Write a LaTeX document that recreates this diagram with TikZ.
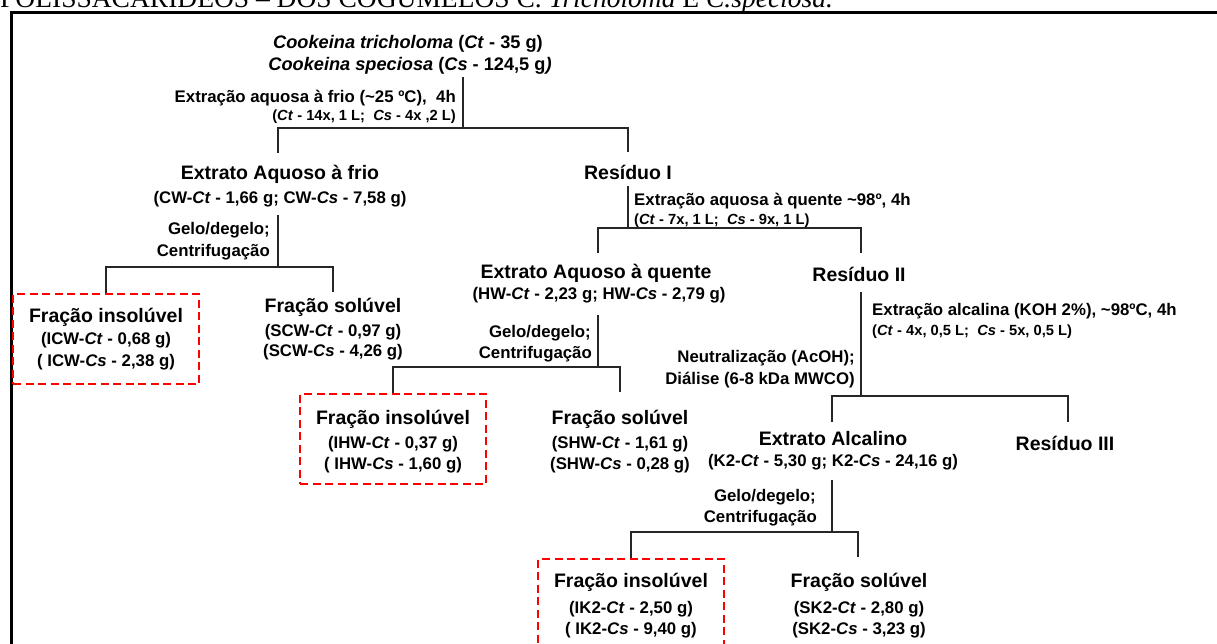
\documentclass[tikz,border=0pt]{standalone}
\usepackage{fontspec}
\setmainfont{Liberation Sans}
\newfontfamily\timesf{Liberation Serif}
\begin{document}
\begin{tikzpicture}[x=1pt,y=-1pt,
  txt/.style={inner sep=0pt, text depth=0pt},
  big/.style={txt, font=\fontsize{19.5}{22}\selectfont\bfseries, text height=14pt},
  mid/.style={txt, font=\fontsize{16.8}{20}\selectfont\bfseries, text height=12pt},
  sml/.style={txt, font=\fontsize{14.7}{17}\selectfont\bfseries, text height=10.5pt},
  ttl/.style={txt, font=\fontsize{18.2}{21}\selectfont\bfseries, text height=13pt},
  conn/.style={line width=1.2pt, draw=black!85},
  fracbox/.style={draw=red, line width=2.3pt, dash pattern=on 8pt off 4.5pt, minimum width=186pt, minimum height=90pt, inner sep=0pt},
  frame/.style={line width=3pt, draw=black}
]
\useasboundingbox (0,0) rectangle (1217,644);
\clip (0,0) rectangle (1217,644);
\fill[white] (0,0) rectangle (1217,644);
% header (cut off at the top edge)
\node[anchor=base west, inner sep=0pt, font=\timesf\fontsize{27.5}{30}\selectfont] (hdr) at (0,8) {POLISSACARÍDEOS – DOS COGUMELOS C. \textit{Tricholoma} E \textit{C.speciosa.}};
\draw[frame] (11,13) rectangle (1240,690);

% title
\node[ttl] (t1) at (408,42) {\textit{Cookeina tricholoma} (\textit{Ct} - 35 g)};
\node[ttl] (t2) at (410,64) {\textit{Cookeina speciosa} (\textit{Cs} - 124,5 g\textit{)}};
\node[mid, anchor=east] (l0a) at (456,97) {Extração aquosa à frio (\textasciitilde25 ºC),\ \ 4h};
\node[sml, anchor=east] (l0b) at (456,115) {(\textit{Ct} - 14x, 1 L;\ \ \textit{Cs} - 4x ,2 L)};

% level 1
\node[big] (cw) at (280,173) {Extrato Aquoso à frio};
\node[mid] (cwq) at (280,198) {(CW-\textit{Ct} - 1,66 g; CW-\textit{Cs} - 7,58 g)};
\node[big] (r1) at (628,173) {Resíduo I};

\coordinate (s0) at (463,77);
\coordinate (j0) at (463,128);
\coordinate (j0l) at (278,128);
\coordinate (j0r) at (628,128);
\coordinate (e0l) at (278,153);
\coordinate (e0r) at (628,152);
\draw[conn] (s0) -- (j0);
\draw[conn] (e0l) -- (j0l) -- (j0r) -- (e0r);

% CW split
\node[mid, anchor=east] (g1a) at (270,229) {Gelo/degelo;};
\node[mid, anchor=east] (g1b) at (270,251) {Centrifugação};
\coordinate (s1) at (278,215);
\coordinate (j1) at (278,267);
\coordinate (j1l) at (106,267);
\coordinate (j1r) at (333,267);
\coordinate (e1r) at (333,292);
\node[fracbox] (b1) at (106,339) {};
\node[big] (icw) at (106,315) {Fração insolúvel};
\node[mid] (icw1) at (106,338) {(ICW-\textit{Ct} - 0,68 g)};
\node[mid] (icw2) at (106,360) {( ICW-\textit{Cs} - 2,38 g)};
\node[big] (scw) at (333,305) {Fração solúvel};
\node[mid] (scw1) at (333,330) {(SCW-\textit{Ct} - 0,97 g)};
\node[mid] (scw2) at (333,350) {(SCW-\textit{Cs} - 4,26 g)};
\draw[conn] (s1) -- (j1);
\draw[conn] (b1.north) -- (j1l) -- (j1r) -- (e1r);

% Residuo I split
\node[mid, anchor=west] (l1a) at (634,200) {Extração aquosa à quente \textasciitilde98º, 4h};
\node[sml, anchor=west] (l1b) at (634,219) {(\textit{Ct} - 7x, 1 L;\ \ \textit{Cs} - 9x, 1 L)};
\coordinate (s2) at (628,186);
\coordinate (j2) at (628,228);
\coordinate (j2l) at (598,228);
\coordinate (j2r) at (861,228);
\coordinate (e2l) at (598,253);
\coordinate (e2r) at (861,253);
\draw[conn] (s2) -- (j2);
\draw[conn] (e2l) -- (j2l) -- (j2r) -- (e2r);

\node[big] (hw) at (596,271) {Extrato Aquoso à quente};
\node[mid] (hwq) at (599,293) {(HW-\textit{Ct} - 2,23 g; HW-\textit{Cs} - 2,79 g)};
\node[big] (r2) at (859,274) {Resíduo II};

% HW split
\node[mid, anchor=east] (g2a) at (591,331) {Gelo/degelo;};
\node[mid, anchor=east] (g2b) at (592,352) {Centrifugação};
\coordinate (s3) at (598,315);
\coordinate (j3) at (598,367);
\coordinate (j3l) at (393,367);
\coordinate (j3r) at (620,367);
\coordinate (e3r) at (620,392);
\node[fracbox] (b2) at (393,439) {};
\node[big] (ihw) at (393,417) {Fração insolúvel};
\node[mid] (ihw1) at (393,442) {(IHW-\textit{Ct} - 0,37 g)};
\node[mid] (ihw2) at (393,463) {( IHW-\textit{Cs} - 1,60 g)};
\node[big] (shw) at (620,417) {Fração solúvel};
\node[mid] (shw1) at (620,442) {(SHW-\textit{Ct} - 1,61 g)};
\node[mid] (shw2) at (620,463) {(SHW-\textit{Cs} - 0,28 g)};
\draw[conn] (s3) -- (j3);
\draw[conn] (b2.north) -- (j3l) -- (j3r) -- (e3r);

% Residuo II split
\node[mid, anchor=west] (l2a) at (872,309) {Extração alcalina (KOH 2\%), \textasciitilde98ºC, 4h};
\node[sml, anchor=west] (l2b) at (872,330) {(\textit{Ct} - 4x, 0,5 L;\ \ \textit{Cs} - 5x, 0,5 L)};
\node[mid, anchor=east] (n2a) at (855,356) {Neutralização (AcOH);};
\node[mid, anchor=east] (n2b) at (855,378) {Diálise (6-8 kDa MWCO)};
\coordinate (s4) at (861,292);
\coordinate (j4) at (861,396);
\coordinate (j4l) at (832,396);
\coordinate (j4r) at (1068,396);
\coordinate (e4l) at (832,422);
\coordinate (e4r) at (1068,422);
\draw[conn] (s4) -- (j4);
\draw[conn] (e4l) -- (j4l) -- (j4r) -- (e4r);

\node[big] (k2) at (833,438) {Extrato Alcalino};
\node[mid] (k2q) at (833,460) {(K2-\textit{Ct} - 5,30 g; K2-\textit{Cs} - 24,16 g)};
\node[big] (r3) at (1065,443) {Resíduo III};

% K2 split
\node[mid, anchor=east] (g3a) at (816,495) {Gelo/degelo;};
\node[mid, anchor=east] (g3b) at (817,516) {Centrifugação};
\coordinate (s5) at (832,480);
\coordinate (j5) at (832,532);
\coordinate (j5l) at (631,532);
\coordinate (j5r) at (858,532);
\coordinate (e5r) at (858,557);
\node[fracbox] (b3) at (631,604) {};
\node[big] (ik2) at (631,580) {Fração insolúvel};
\node[mid] (ik21) at (631,607) {(IK2-\textit{Ct} - 2,50 g)};
\node[mid] (ik22) at (631,628) {( IK2-\textit{Cs} - 9,40 g)};
\node[big] (sk2) at (859,580) {Fração solúvel};
\node[mid] (sk21) at (859,607) {(SK2-\textit{Ct} - 2,80 g)};
\node[mid] (sk22) at (859,628) {(SK2-\textit{Cs} - 3,23 g)};
\draw[conn] (s5) -- (j5);
\draw[conn] (b3.north) -- (j5l) -- (j5r) -- (e5r);
\end{tikzpicture}
\end{document}
